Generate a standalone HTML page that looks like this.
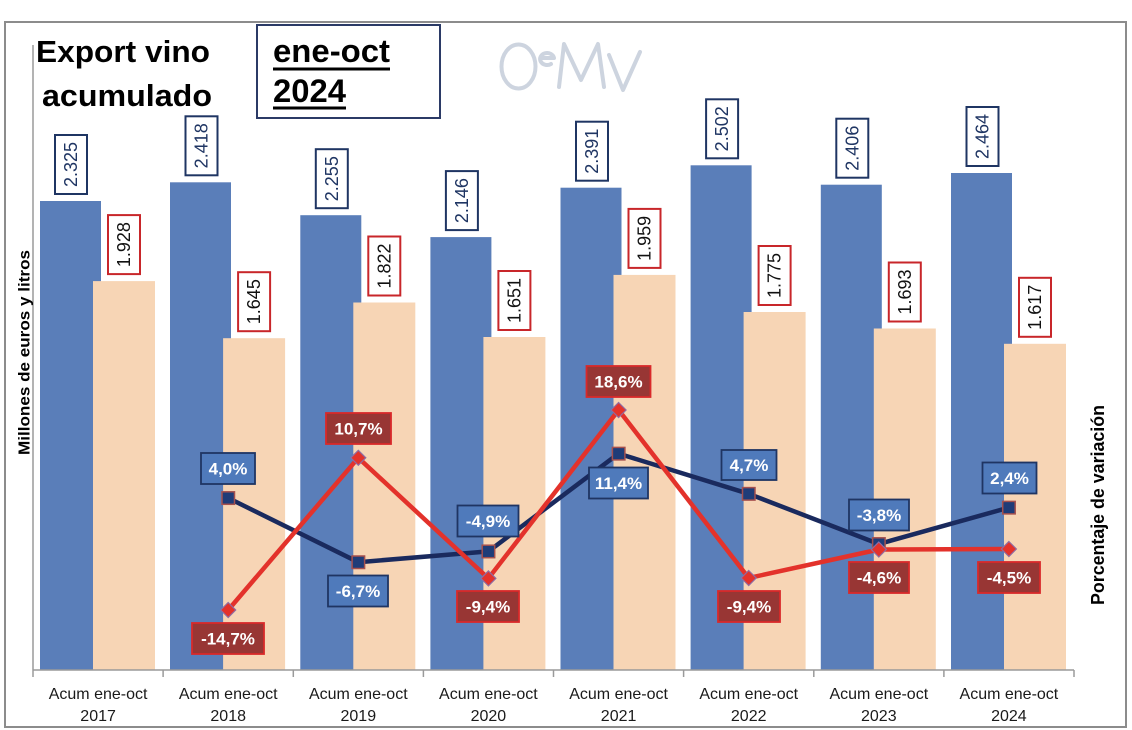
<!DOCTYPE html>
<html><head><meta charset="utf-8"><style>
html,body{margin:0;padding:0;background:#fff;}
svg{display:block;font-family:"Liberation Sans",Arial,sans-serif;}
</style></head><body>
<svg width="1132" height="730" viewBox="0 0 1132 730" xmlns="http://www.w3.org/2000/svg">
<rect x="0" y="0" width="1132" height="730" fill="#fff"/>
<rect x="5" y="22" width="1121" height="705" fill="#fff" stroke="#8c8c8c" stroke-width="2"/>

<!-- logo -->
<g fill="none" stroke="#cdd4df" stroke-width="4" stroke-linecap="round" stroke-linejoin="round">
<ellipse cx="518.5" cy="66.5" rx="17" ry="22"/>
<path d="M541 58 h13 a7 6 0 1 0 -3 6"/>
<path d="M559 87 L564 44 L581 80 L598 44 L604 87"/>
<path d="M609 55 L623 90 L640 52"/>
</g>

<!-- title -->
<text x="123" y="62" font-size="31" font-weight="bold" text-anchor="middle" textLength="174" lengthAdjust="spacingAndGlyphs" fill="#000">Export vino</text>
<text x="127" y="106" font-size="31" font-weight="bold" text-anchor="middle" textLength="170" lengthAdjust="spacingAndGlyphs" fill="#000">acumulado</text>

<rect x="257" y="25" width="183" height="93" fill="#fff" stroke="#2b3a66" stroke-width="2"/>
<text x="273" y="62" font-size="32" font-weight="bold" textLength="117" lengthAdjust="spacingAndGlyphs" fill="#000">ene-oct</text>
<rect x="273" y="67.5" width="117" height="3" fill="#000"/>
<text x="273" y="102" font-size="32" font-weight="bold" textLength="73" lengthAdjust="spacingAndGlyphs" fill="#000">2024</text>
<rect x="273" y="106.5" width="73" height="3" fill="#000"/>

<!-- axes -->
<line x1="33" y1="45" x2="33" y2="670" stroke="#9a9a9a" stroke-width="1.5"/>

<!-- bars -->
<g fill="#5a7eb9">
<rect x="40" y="201" width="61" height="469"/>
<rect x="170" y="182.3" width="61" height="487.7"/>
<rect x="300.3" y="215.2" width="61" height="454.8"/>
<rect x="430.4" y="237.1" width="61" height="432.9"/>
<rect x="560.5" y="187.7" width="61" height="482.3"/>
<rect x="690.6" y="165.3" width="61" height="504.7"/>
<rect x="820.8" y="184.7" width="61" height="485.3"/>
<rect x="951" y="173" width="61" height="497"/>
</g>
<g fill="#f7d5b5">
<rect x="93" y="281.1" width="62" height="388.9"/>
<rect x="223.1" y="338.2" width="62" height="331.8"/>
<rect x="353.3" y="302.5" width="62" height="367.5"/>
<rect x="483.4" y="337" width="62" height="333"/>
<rect x="613.5" y="274.9" width="62" height="395.1"/>
<rect x="743.6" y="312" width="62" height="358"/>
<rect x="873.8" y="328.5" width="62" height="341.5"/>
<rect x="1004" y="343.8" width="62" height="326.2"/>
</g>

<line x1="33" y1="670" x2="1074" y2="670" stroke="#9a9a9a" stroke-width="1.5"/>
<g stroke="#9a9a9a" stroke-width="1.5">
<line x1="33" y1="670" x2="33" y2="677"/>
<line x1="163.1" y1="670" x2="163.1" y2="677"/>
<line x1="293.3" y1="670" x2="293.3" y2="677"/>
<line x1="423.4" y1="670" x2="423.4" y2="677"/>
<line x1="553.5" y1="670" x2="553.5" y2="677"/>
<line x1="683.6" y1="670" x2="683.6" y2="677"/>
<line x1="813.8" y1="670" x2="813.8" y2="677"/>
<line x1="943.9" y1="670" x2="943.9" y2="677"/>
<line x1="1074" y1="670" x2="1074" y2="677"/>
</g>

<!-- value labels blue -->
<g fill="#fff" stroke="#1f3563" stroke-width="2">
<rect x="55" y="135" width="32" height="59"/>
<rect x="185.5" y="116.3" width="32" height="59"/>
<rect x="315.8" y="149.2" width="32" height="59"/>
<rect x="445.9" y="171.1" width="32" height="59"/>
<rect x="576" y="121.7" width="32" height="59"/>
<rect x="706.1" y="99.3" width="32" height="59"/>
<rect x="836.3" y="118.7" width="32" height="59"/>
<rect x="966.5" y="107" width="32" height="59"/>
</g>
<g fill="#1f3563" font-size="18" text-anchor="middle" dominant-baseline="central">
<text transform="translate(71,164.5) rotate(-90)">2.325</text>
<text transform="translate(201.5,145.8) rotate(-90)">2.418</text>
<text transform="translate(331.8,178.7) rotate(-90)">2.255</text>
<text transform="translate(461.9,200.6) rotate(-90)">2.146</text>
<text transform="translate(592,151.2) rotate(-90)">2.391</text>
<text transform="translate(722.1,128.8) rotate(-90)">2.502</text>
<text transform="translate(852.3,148.2) rotate(-90)">2.406</text>
<text transform="translate(982.5,136.5) rotate(-90)">2.464</text>
</g>
<!-- value labels orange -->
<g fill="#fff" stroke="#c8262a" stroke-width="2">
<rect x="108" y="215.1" width="32" height="59"/>
<rect x="238.1" y="272.2" width="32" height="59"/>
<rect x="368.3" y="236.5" width="32" height="59"/>
<rect x="498.4" y="271" width="32" height="59"/>
<rect x="628.5" y="208.9" width="32" height="59"/>
<rect x="758.6" y="246" width="32" height="59"/>
<rect x="888.8" y="262.5" width="32" height="59"/>
<rect x="1019" y="277.8" width="32" height="59"/>
</g>
<g fill="#111" font-size="18" text-anchor="middle" dominant-baseline="central">
<text transform="translate(124,244.6) rotate(-90)">1.928</text>
<text transform="translate(254.1,301.7) rotate(-90)">1.645</text>
<text transform="translate(384.3,266) rotate(-90)">1.822</text>
<text transform="translate(514.4,300.5) rotate(-90)">1.651</text>
<text transform="translate(644.5,238.4) rotate(-90)">1.959</text>
<text transform="translate(774.6,275.5) rotate(-90)">1.775</text>
<text transform="translate(904.8,292) rotate(-90)">1.693</text>
<text transform="translate(1035,307.3) rotate(-90)">1.617</text>
</g>

<!-- blue line -->
<polyline points="228.2,498 358.3,562.2 488.4,551.4 618.6,453.6 748.7,493.8 878.8,544 1008.9,507.6" fill="none" stroke="#1a2a5e" stroke-width="4.5" stroke-linejoin="round"/>
<g fill="#1f3c78" stroke="#a5504e" stroke-width="1.5">
<rect x="222" y="491.8" width="12.5" height="12.5"/>
<rect x="352.1" y="556" width="12.5" height="12.5"/>
<rect x="482.2" y="545.2" width="12.5" height="12.5"/>
<rect x="612.4" y="447.4" width="12.5" height="12.5"/>
<rect x="742.5" y="487.6" width="12.5" height="12.5"/>
<rect x="872.6" y="537.8" width="12.5" height="12.5"/>
<rect x="1002.7" y="501.4" width="12.5" height="12.5"/>
</g>
<!-- red line -->
<polyline points="228.2,610 358.3,457.8 488.4,578.4 618.6,410 748.7,578 878.8,549.5 1008.9,549" fill="none" stroke="#e3322b" stroke-width="4.5" stroke-linejoin="round"/>
<g fill="#e3322b" stroke="#8e6ca3" stroke-width="1.2">
<path d="M228.2,602.5 l7.5,7.5 l-7.5,7.5 l-7.5,-7.5z"/>
<path d="M358.3,450.3 l7.5,7.5 l-7.5,7.5 l-7.5,-7.5z"/>
<path d="M488.4,570.9 l7.5,7.5 l-7.5,7.5 l-7.5,-7.5z"/>
<path d="M618.6,402.5 l7.5,7.5 l-7.5,7.5 l-7.5,-7.5z"/>
<path d="M748.7,570.5 l7.5,7.5 l-7.5,7.5 l-7.5,-7.5z"/>
<path d="M878.8,542 l7.5,7.5 l-7.5,7.5 l-7.5,-7.5z"/>
<path d="M1008.9,541.5 l7.5,7.5 l-7.5,7.5 l-7.5,-7.5z"/>
</g>

<!-- pct labels blue -->
<g fill="#4f7abb" stroke="#1f3563" stroke-width="1.8">
<rect x="201" y="453" width="54" height="31"/>
<rect x="328" y="575.5" width="60" height="31"/>
<rect x="457.5" y="505.5" width="61" height="31"/>
<rect x="589" y="467.5" width="59" height="31"/>
<rect x="721.5" y="450" width="55" height="30"/>
<rect x="849" y="499.5" width="60" height="31"/>
<rect x="982.5" y="462.5" width="54" height="31"/>
</g>
<!-- pct labels red -->
<g fill="#983634" stroke="#d9292a" stroke-width="1.8">
<rect x="192" y="623" width="72" height="31"/>
<rect x="326" y="413" width="65" height="31"/>
<rect x="457" y="591" width="62" height="31"/>
<rect x="586.5" y="366" width="64" height="31"/>
<rect x="718" y="591" width="62" height="31"/>
<rect x="849" y="562" width="60" height="31"/>
<rect x="978" y="562" width="62" height="31"/>
</g>
<g fill="#fff" font-size="17" font-weight="bold" text-anchor="middle" dominant-baseline="central">
<text x="228" y="469">4,0%</text>
<text x="358" y="591.5">-6,7%</text>
<text x="488" y="521.5">-4,9%</text>
<text x="618.5" y="483.5">11,4%</text>
<text x="749" y="465.5">4,7%</text>
<text x="879" y="515.5">-3,8%</text>
<text x="1009.5" y="478.5">2,4%</text>
<text x="228" y="639">-14,7%</text>
<text x="358.5" y="429">10,7%</text>
<text x="488" y="607">-9,4%</text>
<text x="618.5" y="382">18,6%</text>
<text x="749" y="607">-9,4%</text>
<text x="879" y="578">-4,6%</text>
<text x="1009" y="578">-4,5%</text>
</g>

<!-- x labels -->
<g fill="#1a1a1a" font-size="16" text-anchor="middle">
<text x="98.1" y="699">Acum ene-oct</text><text x="98.1" y="721">2017</text>
<text x="228.2" y="699">Acum ene-oct</text><text x="228.2" y="721">2018</text>
<text x="358.3" y="699">Acum ene-oct</text><text x="358.3" y="721">2019</text>
<text x="488.4" y="699">Acum ene-oct</text><text x="488.4" y="721">2020</text>
<text x="618.6" y="699">Acum ene-oct</text><text x="618.6" y="721">2021</text>
<text x="748.7" y="699">Acum ene-oct</text><text x="748.7" y="721">2022</text>
<text x="878.8" y="699">Acum ene-oct</text><text x="878.8" y="721">2023</text>
<text x="1008.9" y="699">Acum ene-oct</text><text x="1008.9" y="721">2024</text>
</g>

<!-- axis titles -->
<text transform="translate(25,352.5) rotate(-90)" font-size="16" font-weight="bold" text-anchor="middle" dominant-baseline="central" textLength="205" lengthAdjust="spacingAndGlyphs" fill="#000">Millones de euros y litros</text>
<text transform="translate(1098,505) rotate(-90)" font-size="18" font-weight="bold" text-anchor="middle" dominant-baseline="central" textLength="200" lengthAdjust="spacingAndGlyphs" fill="#000">Porcentaje de variación</text>
</svg>
</body></html>
